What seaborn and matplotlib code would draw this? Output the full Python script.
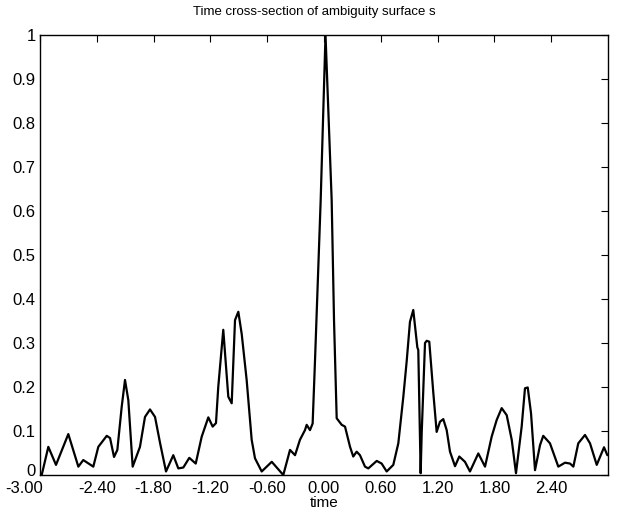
import numpy as np
import pandas as pd
import matplotlib
matplotlib.use("Agg")
import matplotlib.pyplot as plt
import matplotlib.transforms as mtransforms
import seaborn as sns

# Data (time, normalized ambiguity magnitude)
time = [-2.982, -2.912, -2.831, -2.701, -2.595, -2.543, -2.437, -2.384, -2.295, -2.260,
        -2.218, -2.183, -2.137, -2.102, -2.067, -2.021, -1.944, -1.891, -1.838, -1.785,
        -1.732, -1.669, -1.592, -1.539, -1.486, -1.423, -1.355, -1.292, -1.222, -1.176,
        -1.141, -1.117, -1.064, -1.011, -0.975, -0.940, -0.905, -0.869, -0.817, -0.764,
        -0.729, -0.658, -0.552, -0.430, -0.359, -0.306, -0.254, -0.201, -0.183, -0.148,
        -0.120, -0.095, -0.035, 0.016, 0.081, 0.106, 0.134, 0.187, 0.222, 0.275,
        0.309, 0.345, 0.380, 0.433, 0.468, 0.557, 0.609, 0.662, 0.732, 0.785,
        0.838, 0.874, 0.908, 0.943, 0.986, 0.996, 1.021, 1.032, 1.067, 1.085,
        1.112, 1.155, 1.190, 1.225, 1.260, 1.296, 1.331, 1.384, 1.429, 1.489,
        1.542, 1.630, 1.701, 1.771, 1.824, 1.877, 1.930, 1.983, 2.028, 2.088,
        2.123, 2.152, 2.187, 2.229, 2.282, 2.316, 2.387, 2.475, 2.546, 2.599,
        2.634, 2.686, 2.757, 2.810, 2.881, 2.958, 2.993]
ambiguity = [0.000, 0.064, 0.023, 0.093, 0.019, 0.034, 0.019, 0.064, 0.089, 0.084,
             0.041, 0.057, 0.155, 0.216, 0.170, 0.019, 0.064, 0.132, 0.149, 0.132,
             0.073, 0.008, 0.045, 0.015, 0.017, 0.039, 0.026, 0.087, 0.131, 0.110,
             0.118, 0.200, 0.330, 0.178, 0.163, 0.352, 0.371, 0.320, 0.216, 0.080,
             0.038, 0.008, 0.030, 0.000, 0.057, 0.045, 0.080, 0.102, 0.114, 0.102,
             0.117, 0.260, 0.625, 1.000, 0.625, 0.350, 0.129, 0.114, 0.110, 0.064,
             0.042, 0.053, 0.045, 0.019, 0.015, 0.032, 0.026, 0.008, 0.023, 0.072,
             0.178, 0.260, 0.348, 0.375, 0.290, 0.284, 0.004, 0.095, 0.300, 0.305,
             0.303, 0.186, 0.098, 0.121, 0.127, 0.102, 0.053, 0.020, 0.042, 0.030,
             0.008, 0.049, 0.019, 0.087, 0.125, 0.152, 0.136, 0.080, 0.004, 0.110,
             0.197, 0.199, 0.140, 0.011, 0.068, 0.089, 0.072, 0.019, 0.028, 0.026,
             0.019, 0.072, 0.091, 0.072, 0.023, 0.063, 0.045]

xticks = [-3.0, -2.4, -1.8, -1.2, -0.6, 0.0, 0.6, 1.2, 1.8, 2.4]
xticklabels = ["-3.00", "-2.40", "-1.80", "-1.20", "-0.60", "0.00", "0.60", "1.20", "1.80", "2.40"]
yticks = [0, 0.1, 0.2, 0.3, 0.4, 0.5, 0.6, 0.7, 0.8, 0.9, 1.0]
yticklabels = ["0", "0.1", "0.2", "0.3", "0.4", "0.5", "0.6", "0.7", "0.8", "0.9", "1"]

df = pd.DataFrame({"time": time, "s": ambiguity})

sns.set_theme(style="white")
plt.rcParams["font.family"] = ["Liberation Sans", "DejaVu Sans"]

W, H = 619, 516
fig = plt.figure(figsize=(W / 100, H / 100), dpi=100)
ax = fig.add_axes([40 / W, (H - 475) / H, 568 / W, 440 / H])

sns.lineplot(data=df, x="time", y="s", ax=ax, color="black", linewidth=1.6,
             estimator=None, sort=False)

ax.set_xlim(-3, 3)
ax.set_ylim(0, 1)
ax.set_xticks(xticks)
ax.set_xticklabels(xticklabels)
ax.set_yticks(yticks)
ax.set_yticklabels(yticklabels)
ax.tick_params(direction="in", top=True, right=True, length=5, width=0.8,
               labelsize=12, colors="black")
ax.tick_params(axis="x", pad=4)
ax.tick_params(axis="y", pad=3)
for sp in ax.spines.values():
    sp.set_color("black")
    sp.set_linewidth(1.0)

# MATLAB-style nudges: first x label shifted left, "0" label raised
px = 1 / 100
xl0 = ax.get_xticklabels()[0]
xl0.set_transform(xl0.get_transform() + mtransforms.ScaledTranslation(-16 * px, 0, fig.dpi_scale_trans))
yl0 = ax.get_yticklabels()[0]
yl0.set_transform(yl0.get_transform() + mtransforms.ScaledTranslation(0, 5 * px, fig.dpi_scale_trans))

ax.set_xlabel("time", fontsize=11, color="black", labelpad=0)
ax.set_ylabel("")
fig.text(314 / W, 1 - 12 / H, "Time cross-section of ambiguity surface s",
         fontsize=9.5, color="black", ha="center", va="center")

fig.savefig("out.png", dpi=100, facecolor="white")
